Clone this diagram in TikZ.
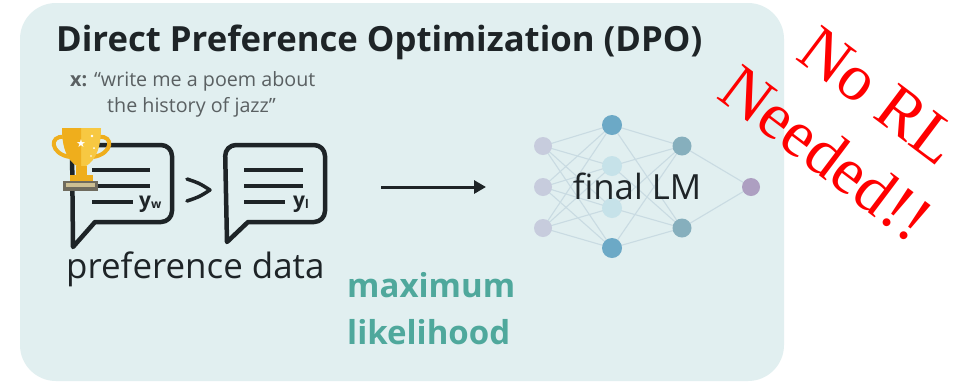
\documentclass[tikz,border=0pt]{standalone}
\usepackage{fontspec}
\setmainfont{Open Sans}
\newfontfamily\redserif{Liberation Serif}
\newfontfamily\symfont{DejaVu Sans}
\usetikzlibrary{arrows.meta}

\definecolor{panel}{HTML}{E1EFF0}
\definecolor{ink}{HTML}{1E2427}
\definecolor{prompt}{HTML}{5A6062}
\definecolor{teal}{HTML}{4FA89C}
\definecolor{gold}{HTML}{EFAE1C}
\definecolor{goldlight}{HTML}{F7C842}
\definecolor{basedark}{HTML}{6F6B5E}
\definecolor{basetan}{HTML}{CDBF93}
\definecolor{nin}{HTML}{C7CCDD}
\definecolor{nblue}{HTML}{6CA9C6}
\definecolor{npale}{HTML}{C6E2E9}
\definecolor{nmid}{HTML}{86AFBD}
\definecolor{nout}{HTML}{AD9FC1}
\definecolor{edge}{HTML}{C9DBE2}

\pgfdeclarelayer{wires}
\pgfdeclarelayer{base}
\pgfsetlayers{base,wires,main}

\tikzset{
  bubble/.style={draw=ink, line width=4.5pt, line join=round},
  textline/.style={draw=ink, line width=4pt},
  neuron/.style={circle, inner sep=0pt, minimum size=#1},
  synapse/.style={draw=edge, line width=1.1pt},
  label/.style={inner sep=0pt, anchor=base west},
  slogan/.style={label, text=red, rotate=-37, font=\redserif\fontsize{66}{66}\selectfont},
}

\begin{document}
\begin{tikzpicture}[x=1pt, y=-1pt]
\useasboundingbox (0,0) rectangle (971,384);
\begin{pgfonlayer}{base}
\fill[white] (0,0) rectangle (971,384);
\fill[panel, rounded corners=36pt] (20,3) rectangle (784,381);
\end{pgfonlayer}

% title and prompt
\node[label, text=ink, font=\bfseries\fontsize{34.7}{40}\selectfont] (title) at (56,51) {Direct Preference Optimization (DPO)};
\node[label, text=prompt, font=\fontsize{19.7}{22}\selectfont] (prompt1) at (70,86) {\textbf{x:} “write me a poem about};
\node[label, text=prompt, font=\fontsize{19.7}{22}\selectfont] (prompt2) at (107,112) {the history of jazz”};

% winning response bubble
\draw[bubble] (73,247) [rounded corners=11pt]-- (72,145) -- (172,145) -- (172,222) [sharp corners]-- (95,222) -- cycle;
\draw[textline] (92,170) -- (150,170);
\draw[textline] (92,186) -- (150,186);
\draw[textline] (92,202) -- (133,202);
\node[label, text=ink, font=\bfseries\fontsize{21}{21}\selectfont] (yw) at (139,207) {y\raisebox{-1.5pt}{\fontsize{12}{12}\selectfont w}};

% preference symbol
\coordinate (succtop) at (187,179);
\coordinate (succtip) at (210,190);
\coordinate (succbot) at (187,201);
\draw[ink, line width=3.5pt, line cap=round, line join=round]
  (succtop) .. controls (199,183) .. (succtip) .. controls (199,197) .. (succbot);

% losing response bubble
\draw[bubble] (227,242) [rounded corners=11pt]-- (225,145) -- (325,145) -- (325,222) [sharp corners]-- (248,222) -- cycle;
\draw[textline] (244,170) -- (303,170);
\draw[textline] (244,186) -- (303,186);
\draw[textline] (244,202) -- (285,202);
\node[label, text=ink, font=\bfseries\fontsize{21}{21}\selectfont] (yl) at (293,207) {y\raisebox{-1.5pt}{\fontsize{12}{12}\selectfont l}};

% trophy
\draw[gold, line width=4pt] (64,137) .. controls (49,135) and (50,154) .. (70,157);
\draw[gold, line width=4pt] (99,137) .. controls (114,135) and (113,154) .. (93,157);
\fill[goldlight] (62,128) -- (101,128) .. controls (101,152) and (93,164) .. (82,168)
  .. controls (70,164) and (62,152) .. cycle;
\fill[gold] (62,128) -- (81,128) -- (81,168) .. controls (70,164) and (62,152) .. cycle;
\fill[gold] (76,166) rectangle (87,177);
\fill[gold] (70,175) rectangle (93,181);
\fill[basedark] (63,181) rectangle (98,191);
\fill[basetan] (66,183) rectangle (95,187);
\node[white, font=\symfont\fontsize{11}{11}\selectfont, inner sep=0pt] (star) at (81,144) {★};
\fill[white] (92,136) circle (1.3pt);
\fill[white] (94,148) circle (1pt);
\fill[white] (91,156) circle (0.8pt);

\node[label, text=ink, font=\fontsize{34.9}{40}\selectfont] (prefdata) at (66,278) {preference data};

% training step
\coordinate (arrowfrom) at (381,187);
\coordinate (arrowto) at (486,187);
\draw[ink, line width=3pt, -{Triangle[length=12pt, width=13pt]}] (arrowfrom) -- (arrowto);
\node[label, text=teal, font=\bfseries\fontsize{33}{36}\selectfont] (maxw) at (347,297) {maximum};
\node[label, text=teal, font=\bfseries\fontsize{33}{36}\selectfont] (likew) at (347,344) {likelihood};

% network
\node[neuron=18pt, fill=nin] (i1) at (543,146) {};
\node[neuron=18pt, fill=nin] (i2) at (543,187) {};
\node[neuron=18pt, fill=nin] (i3) at (543,228) {};
\node[neuron=20pt, fill=nblue] (h1) at (612,125) {};
\node[neuron=20pt, fill=npale] (h2) at (612,166) {};
\node[neuron=20pt, fill=npale] (h3) at (612,208) {};
\node[neuron=20pt, fill=nblue] (h4) at (612,248) {};
\node[neuron=19pt, fill=nmid] (g1) at (682,146) {};
\node[neuron=19pt, fill=nmid] (g2) at (682,228) {};
\node[neuron=18pt, fill=nout] (o1) at (751,187) {};
\begin{pgfonlayer}{wires}
\foreach \a in {i1,i2,i3} \foreach \b in {h1,h2,h3,h4} \draw[synapse] (\a.center) -- (\b.center);
\foreach \a in {h1,h2,h3,h4} \foreach \b in {g1,g2} \draw[synapse] (\a.center) -- (\b.center);
\foreach \a in {g1,g2} \draw[synapse] (\a.center) -- (o1.center);
\end{pgfonlayer}
\node[text=ink, font=\fontsize{34.7}{40}\selectfont, inner sep=0pt] (final) at (637,186) {final LM};

% annotation
\node[slogan] (norl) at (794,58) {No RL};
\node[slogan] (needed) at (715,97) {Needed!!};
\end{tikzpicture}
\end{document}
